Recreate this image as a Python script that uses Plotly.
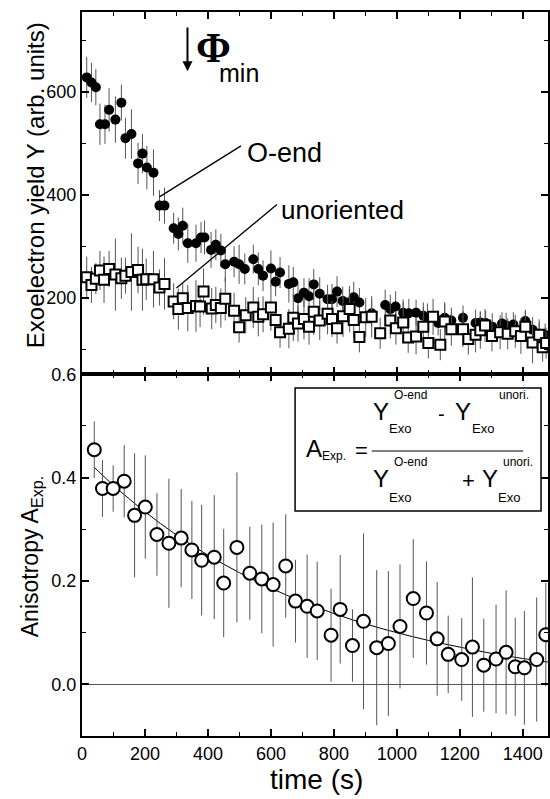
import plotly.graph_objects as go
from plotly.subplots import make_subplots

# ---------------- data ----------------
oend_t = [15, 30, 44, 57, 73, 86, 106, 125, 138, 157,
          178, 192, 206, 227, 246, 262, 291, 306, 320, 336,
          362, 378, 389, 410, 425, 441, 455, 483, 499, 517,
          544, 560, 575, 600, 615, 629, 657, 671, 686, 705,
          721, 736, 755, 780, 794, 810, 828, 849, 863, 881,
          920, 963, 979, 996, 1020, 1038, 1061, 1084, 1097, 1131,
          1152, 1173, 1210, 1250, 1265, 1282, 1303, 1334, 1347, 1370,
          1408, 1431, 1452, 1471]
oend_y = [628, 618, 609, 537, 537, 565, 546, 579, 510, 518,
          461, 480, 453, 443, 379, 379, 335, 324, 340, 306,
          306, 317, 317, 293, 303, 292, 265, 270, 265, 256,
          275, 256, 243, 257, 231, 249, 227, 230, 199, 210,
          203, 226, 208, 197, 197, 212, 194, 191, 201, 191,
          170, 186, 178, 183, 171, 170, 171, 165, 161, 151,
          161, 156, 161, 151, 152, 151, 144, 150, 146, 148,
          155, 138, 130, 128]
oend_err = [40, 38, 35, 40, 38, 42, 45, 35, 40, 48,
            40, 38, 42, 45, 30, 35, 30, 32, 35, 38,
            36, 30, 33, 35, 30, 32, 34, 30, 38, 30,
            28, 32, 30, 35, 28, 30, 36, 30, 32, 28,
            35, 30, 32, 28, 30, 30, 28, 26, 30, 28,
            26, 30, 28, 30, 26, 28, 25, 26, 28, 24,
            26, 25, 24, 26, 22, 24, 26, 22, 25, 24,
            22, 24, 22, 22]

unor_t = [15, 30, 44, 57, 70, 86, 106, 125, 138, 157,
          178, 192, 204, 227, 246, 262, 291, 306, 320, 336,
          362, 375, 386, 412, 425, 441, 455, 483, 499, 520,
          544, 560, 575, 600, 615, 629, 657, 671, 686, 705,
          721, 736, 755, 780, 794, 810, 829, 850, 863, 881,
          901, 920, 947, 979, 997, 1020, 1036, 1061, 1084, 1100,
          1115, 1138, 1152, 1173, 1210, 1227, 1250, 1265, 1280, 1302,
          1328, 1352, 1376, 1394, 1408, 1431, 1452, 1463, 1474]
unor_y = [240, 225, 237, 253, 235, 256, 245, 238, 243, 250,
          254, 235, 236, 236, 220, 227, 193, 178, 199, 180,
          184, 183, 212, 179, 186, 180, 198, 175, 143, 166,
          181, 163, 168, 181, 157, 133, 140, 161, 150, 159,
          144, 173, 156, 169, 159, 141, 164, 178, 157, 124,
          162, 163, 131, 156, 141, 152, 123, 125, 144, 112,
          163, 109, 154, 139, 139, 120, 128, 137, 146, 126,
          133, 130, 135, 126, 144, 113, 128, 104, 112]
unor_err = [40, 35, 30, 38, 45, 35, 70, 40, 35, 75,
            45, 60, 40, 55, 35, 50, 35, 40, 30, 45,
            50, 40, 45, 40, 35, 38, 42, 35, 30, 35,
            40, 38, 35, 45, 35, 30, 38, 45, 35, 40,
            35, 45, 38, 40, 35, 30, 40, 45, 35, 30,
            38, 40, 30, 35, 32, 40, 30, 35, 38, 30,
            35, 30, 38, 32, 35, 30, 34, 36, 32, 30,
            33, 30, 32, 35, 30, 40, 30, 28, 30]

aniso_t = [39, 65, 99, 134, 167, 201, 238, 276, 315, 349,
           380, 420, 450, 492, 533, 571, 607, 647, 678, 715,
           747, 791, 820, 859, 894, 936, 973, 1010, 1052, 1094,
           1128, 1163, 1206, 1240, 1276, 1315, 1347, 1376, 1405, 1444,
           1473]
aniso_a = [0.454, 0.379, 0.379, 0.393, 0.327, 0.343, 0.290, 0.273, 0.283, 0.260,
           0.240, 0.246, 0.196, 0.265, 0.215, 0.204, 0.193, 0.229, 0.161, 0.151,
           0.142, 0.095, 0.145, 0.075, 0.122, 0.071, 0.079, 0.112, 0.166, 0.138,
           0.088, 0.058, 0.048, 0.072, 0.037, 0.049, 0.062, 0.034, 0.032, 0.048,
           0.096]
aniso_err = [0.055, 0.055, 0.045, 0.070, 0.120, 0.100, 0.080, 0.125, 0.095, 0.095,
             0.107, 0.120, 0.105, 0.145, 0.090, 0.105, 0.120, 0.100, 0.080, 0.100,
             0.095, 0.090, 0.105, 0.070, 0.170, 0.150, 0.140, 0.120, 0.115, 0.100,
             0.110, 0.075, 0.080, 0.135, 0.090, 0.105, 0.120, 0.095, 0.110, 0.120,
             0.100]

fit_t = [39, 100, 200, 300, 400, 500, 600, 700, 800, 900,
         1000, 1100, 1200, 1300, 1400, 1480]
fit_a = [0.420, 0.385, 0.334, 0.289, 0.250, 0.216, 0.186, 0.160, 0.137, 0.117,
         0.100, 0.085, 0.072, 0.060, 0.050, 0.043]

top_yticks = [200, 400, 600]
bot_yticks = [0.0, 0.2, 0.4, 0.6]
bot_yticklabels = ["0.0", "0.2", "0.4", "0.6"]
xticks = [0, 200, 400, 600, 800, 1000, 1200, 1400]

# ---------------- figure ----------------
W, H = 550, 799
ML, MR, MT, MB = 82, 0, 12, 63
PW, PH = W - ML - MR, H - MT - MB

def px(xpix):
    return (xpix - ML) / PW

def py(ypix):
    return (H - MB - ypix) / PH

FONT = "Liberation Sans, Arial, Helvetica, sans-serif"

fig = make_subplots(rows=2, cols=1, shared_xaxes=True, vertical_spacing=0)

ebar = dict(type="data", thickness=1, width=0, color="#555555")

fig.add_trace(go.Scatter(
    x=oend_t, y=oend_y, mode="markers",
    error_y=dict(array=oend_err, **ebar),
    marker=dict(symbol="circle", size=10, color="black", line=dict(width=0)),
    showlegend=False), row=1, col=1)

fig.add_trace(go.Scatter(
    x=unor_t, y=unor_y, mode="markers",
    error_y=dict(array=unor_err, **ebar),
    marker=dict(symbol="square", size=10, color="white",
                line=dict(color="black", width=2)),
    showlegend=False), row=1, col=1)

fig.add_trace(go.Scatter(
    x=fit_t, y=fit_a, mode="lines", line=dict(color="black", width=1, shape="spline"),
    showlegend=False), row=2, col=1)

fig.add_trace(go.Scatter(
    x=aniso_t, y=aniso_a, mode="markers",
    error_y=dict(array=aniso_err, **ebar),
    marker=dict(symbol="circle", size=13, color="white",
                line=dict(color="black", width=2)),
    showlegend=False), row=2, col=1)

xcommon = dict(range=[0, 1480], showline=True, linewidth=2, linecolor="black",
               mirror="ticks", ticks="inside", ticklen=7, tickwidth=1.5,
               tickcolor="black", tickvals=xticks, showgrid=False, zeroline=False,
               minor=dict(dtick=100, tick0=0, ticks="inside", ticklen=4,
                          tickwidth=1.2, tickcolor="black", showgrid=False))

fig.update_xaxes(showticklabels=False, **xcommon, row=1, col=1)
fig.update_xaxes(showticklabels=True, tickfont=dict(family=FONT, size=18, color="black"),
                 **xcommon, row=2, col=1)

ycommon = dict(showline=True, linewidth=2, linecolor="black", mirror="ticks",
               ticks="inside", ticklen=7, tickwidth=1.5, tickcolor="black",
               showgrid=False, tickfont=dict(family=FONT, size=18, color="black"))

fig.update_yaxes(range=[52, 755], tickvals=top_yticks, zeroline=False,
                 minor=dict(dtick=100, tick0=0, ticks="inside", ticklen=4,
                            tickwidth=1.2, tickcolor="black", showgrid=False),
                 **ycommon, row=1, col=1)
fig.update_yaxes(range=[-0.1, 0.6005], tickvals=bot_yticks, ticktext=bot_yticklabels,
                 zeroline=True, zerolinecolor="#555555", zerolinewidth=1,
                 minor=dict(dtick=0.1, tick0=0, ticks="inside", ticklen=4,
                            tickwidth=1.2, tickcolor="black", showgrid=False),
                 **ycommon, row=2, col=1)

ann = []

def text(t, xpix, ypix, size, xanchor="left", family=FONT, angle=0, bold=False):
    if bold:
        t = "<b>" + t + "</b>"
    ann.append(dict(text=t, x=px(xpix), y=py(ypix), xref="paper", yref="paper",
                    xanchor=xanchor, yanchor="middle", showarrow=False,
                    textangle=angle, font=dict(family=family, size=size, color="black")))

# axis titles
text("Exoelectron yield Y (arb. units)", 35, 185, 24, xanchor="center", angle=-90)
text("Anisotropy A<sub>Exp.</sub>", 31, 557, 23, xanchor="center", angle=-90)
text("time (s)", 318, 779, 28, xanchor="center")

# labels in top panel
ann.append(dict(text="O-end", x=518, y=482, xref="x", yref="y", xanchor="left",
                yanchor="middle", showarrow=False,
                font=dict(family=FONT, size=27, color="black")))
ann.append(dict(text="unoriented", x=626, y=371, xref="x", yref="y", xanchor="left",
                yanchor="middle", showarrow=False,
                font=dict(family=FONT, size=26, color="black")))

# Phi_min arrow and label
ann.append(dict(x=335, y=640, ax=335, ay=728, xref="x", yref="y", axref="x", ayref="y",
                text="", showarrow=True, arrowhead=2, arrowsize=1, arrowwidth=2,
                arrowcolor="black"))
text("Φ", 214, 48, 42, xanchor="center", family="Liberation Serif, Times New Roman, serif",
     bold=True)
text("min", 240, 73, 25, xanchor="center")

# formula box content
BIG, SMALL = 24, 12
text("A", 305, 448, BIG)
text("Exp.", 321, 456, SMALL)
text("=", 354, 451, 22)
# numerator
text("Y", 372, 412, BIG)
text("O-end", 393, 395, SMALL)
text("Exo", 388, 429, 13)
text("-", 438, 414, 20)
text("Y", 455, 412, BIG)
text("unori.", 499, 395, SMALL)
text("Exo", 472, 429, 13)
# denominator
text("Y", 372, 479, BIG)
text("O-end", 393, 462, SMALL)
text("Exo", 388, 497, 13)
text("+", 462, 480, 22)
text("Y", 482, 479, BIG)
text("unori.", 503, 462, SMALL)
text("Exo", 498, 497, 13)

shapes = [
    # leader lines
    dict(type="line", xref="x", yref="y", x0=246, y0=396, x1=505, y1=495,
         line=dict(color="black", width=1.3)),
    dict(type="line", xref="x", yref="y", x0=300, y0=219, x1=619, y1=381,
         line=dict(color="black", width=1.3)),
    # formula box
    dict(type="rect", xref="paper", yref="paper", x0=px(296), x1=px(543),
         y0=py(511), y1=py(388), line=dict(color="black", width=1.5),
         fillcolor="white", layer="above"),
    # fraction bar
    dict(type="line", xref="paper", yref="paper", x0=px(373), x1=px(525),
         y0=py(451), y1=py(451), line=dict(color="black", width=1.2)),
]

fig.update_layout(
    width=W, height=H, margin=dict(l=ML, r=MR, t=MT, b=MB),
    paper_bgcolor="white", plot_bgcolor="white",
    annotations=ann, shapes=shapes, showlegend=False,
    font=dict(family=FONT, color="black"),
)

fig.write_html("out.html",
               config={"displayModeBar": False},
               post_script="document.body.style.margin='0px';"
                           "document.body.style.overflow='hidden';")
